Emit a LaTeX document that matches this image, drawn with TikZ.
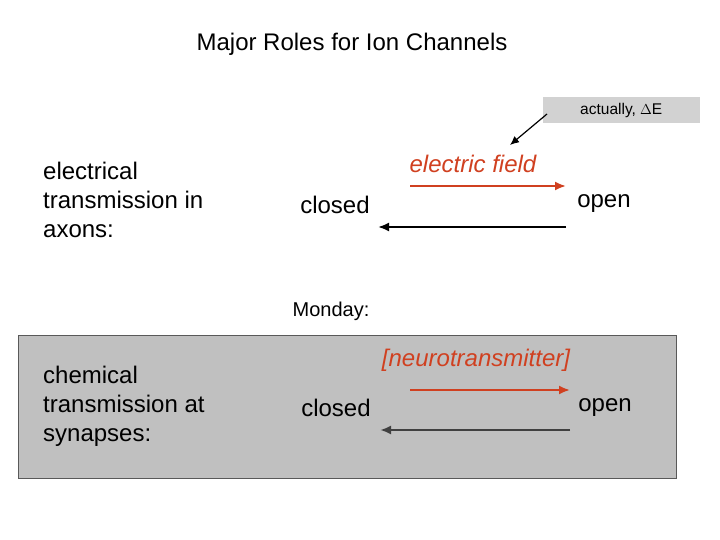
\documentclass[tikz,border=0pt]{standalone}
\usepackage{fontspec}
\setmainfont{Liberation Sans}
\usetikzlibrary{arrows.meta}
\definecolor{fieldred}{RGB}{208,64,32}
\definecolor{boxgray}{RGB}{192,192,192}
\definecolor{notegray}{RGB}{210,210,210}
\tikzset{
  label text/.style={font=\fontsize{24}{29}\selectfont, align=left},
  state/.style={font=\fontsize{24}{28}\selectfont},
  trans/.style={-{Latex[length=11pt,width=9pt]}, line width=2pt},
}
\begin{document}
\begin{tikzpicture}[x=1pt,y=-1pt]
    \useasboundingbox (0,0) rectangle (720,540);

    % title
    \node[font=\fontsize{24}{28}\selectfont] (title) at (352,44) {Major Roles for Ion Channels};

    % note
    \fill[notegray] (543,97) rectangle (700,123);
    \node[font=\fontsize{15.5}{18}\selectfont, anchor=west, inner sep=0pt] (note) at (580,110) {actually, $\Delta$E};
    \coordinate (notetip) at (510,145);
    \draw[-{Latex[length=9pt,width=8pt]}, line width=1.2pt] (547,114) -- (notetip);

    % axons
    \node[label text, anchor=north west, inner sep=0pt] (axons) at (43,162) {electrical\\transmission in\\axons:};
    \node[font=\itshape\fontsize{24}{28}\selectfont, text=fieldred] (field) at (473,164) {electric field};
    \node[state] (closedA) at (335,205) {closed};
    \node[state] (openA) at (604,204) {open};
    \coordinate (a1) at (410,186);
    \coordinate (a2) at (566,186);
    \coordinate (a3) at (566,227);
    \coordinate (a4) at (378,227);
    \draw[trans, fieldred] (a1) -- (a2);
    \draw[trans, black] (a3) -- (a4);

    % synapses
    \node[font=\fontsize{20}{24}\selectfont] (monday) at (331,311) {Monday:};
    \draw[fill=boxgray, draw=gray!70!black] (18,335) rectangle (676,478);
    \node[label text, anchor=north west, inner sep=0pt] (synapses) at (43,366) {chemical\\transmission at\\synapses:};
    \node[font=\itshape\fontsize{24}{28}\selectfont, text=fieldred] (nt) at (476,360) {[neurotransmitter]};
    \node[state] (closedB) at (336,408) {closed};
    \node[state] (openB) at (605,408) {open};
    \coordinate (b1) at (410,390);
    \coordinate (b2) at (570,390);
    \coordinate (b3) at (570,430);
    \coordinate (b4) at (380,430);
    \draw[trans, fieldred] (b1) -- (b2);
    \draw[trans, black!75, line width=2.8pt] (b3) -- (b4);
\end{tikzpicture}
\end{document}
